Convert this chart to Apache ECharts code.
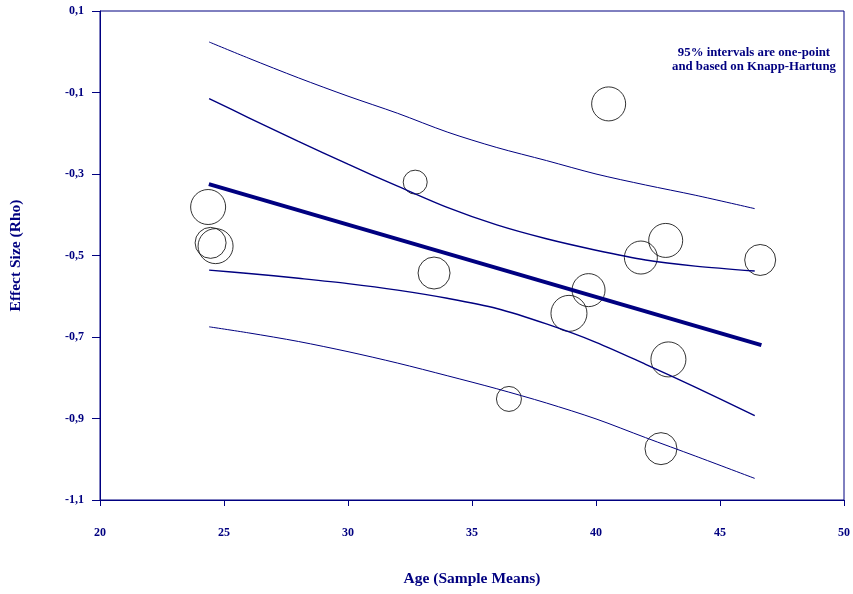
<!DOCTYPE html>
<html>
<head>
<meta charset="utf-8">
<script src="https://cdn.jsdelivr.net/npm/echarts@6/dist/echarts.min.js"></script>
<style>html,body{margin:0;padding:0;background:#fff}#c{width:853px;height:594px}</style>
</head>
<body>
<div id="c"></div>
<script>
// Study bubbles: age (sample mean), effect size (rho), weight (drawn diameter)
var studyAge = [24.36, 24.46, 24.66, 32.71, 33.47, 40.51, 41.81, 42.81, 46.62, 39.70, 38.91, 42.92, 36.49, 42.62];
var studyRho = [-0.381, -0.469, -0.477, -0.320, -0.543, -0.128, -0.505, -0.463, -0.511, -0.585, -0.642, -0.755, -0.852, -0.974];
var studyWeight = [35, 31, 35, 24, 32, 34, 33, 34, 31, 33, 36, 35, 25, 32];

// Meta-regression line
var regAge = [24.39, 46.67];
var regRho = [-0.325, -0.720];

// Interval curves, read at these ages
var bandAge = [24.4, 26, 28, 30, 32, 34, 36, 38, 40, 42, 44, 46.4];
// 95% CI (inner) upper and lower
var ciUpRho = [-0.115, -0.162, -0.220, -0.276, -0.330, -0.382, -0.425, -0.459, -0.487, -0.511, -0.526, -0.538];
var ciLoRho = [-0.536, -0.544, -0.556, -0.569, -0.585, -0.605, -0.630, -0.668, -0.713, -0.767, -0.823, -0.893];
// 95% prediction interval (outer) upper and lower
var piUpRho = [0.024, -0.016, -0.064, -0.109, -0.151, -0.197, -0.235, -0.267, -0.300, -0.327, -0.352, -0.385];
var piLoRho = [-0.675, -0.690, -0.711, -0.736, -0.764, -0.795, -0.827, -0.862, -0.901, -0.947, -0.992, -1.047];

var xTicks = [20, 25, 30, 35, 40, 45, 50];
var yTicks = [-1.1, -0.9, -0.7, -0.5, -0.3, -0.1, 0.1];

function zip(a, b, c) {
  return a.map(function (v, i) { return c ? [v, b[i], c[i]] : [v, b[i]]; });
}

var NAVY = '#000080';
var FONT = '"Liberation Serif", "Times New Roman", serif';

function curve(ay, w) {
  return {type: 'line', z: 3, data: zip(bandAge, ay), smooth: 0.3, showSymbol: false,
          lineStyle: {color: NAVY, width: w}};
}

var chart = echarts.init(document.getElementById('c'), null, {renderer: 'canvas'});
chart.setOption({
  animation: false,
  backgroundColor: '#ffffff',
  grid: {left: 100, right: 7, top: 11, bottom: 94, show: true, borderColor: NAVY, borderWidth: 1, backgroundColor: 'transparent'},
  xAxis: {
    type: 'value',
    min: xTicks[0], max: xTicks[xTicks.length - 1], interval: 5,
    name: 'Age (Sample Means)', nameLocation: 'middle', nameGap: 71,
    nameTextStyle: {color: NAVY, fontFamily: FONT, fontWeight: 'bold', fontSize: 15.5},
    axisLine: {show: true, onZero: false, lineStyle: {color: NAVY, width: 1}},
    axisTick: {show: true, inside: false, length: 6, lineStyle: {color: NAVY}},
    axisLabel: {color: NAVY, fontFamily: FONT, fontWeight: 'bold', fontSize: 12, margin: 27},
    splitLine: {show: false}
  },
  yAxis: {
    type: 'value',
    min: yTicks[0], max: yTicks[yTicks.length - 1], interval: 0.2,
    name: 'Effect Size (Rho)', nameLocation: 'middle', nameGap: 76, nameRotate: 90,
    nameTextStyle: {color: NAVY, fontFamily: FONT, fontWeight: 'bold', fontSize: 15.5},
    axisLine: {show: true, onZero: false, lineStyle: {color: NAVY, width: 1}},
    axisTick: {show: true, inside: false, length: 8, lineStyle: {color: NAVY}},
    axisLabel: {
      color: NAVY, fontFamily: FONT, fontWeight: 'bold', fontSize: 12, margin: 16,
      formatter: function (v) { return v.toFixed(1).replace('.', ','); }
    },
    splitLine: {show: false}
  },
  graphic: [{
    type: 'text', x: 754, y: 46,
    style: {
      text: '95% intervals are one-point\nand based on Knapp-Hartung',
      fill: NAVY, font: 'bold 12.8px ' + FONT, align: 'center', verticalAlign: 'top', lineHeight: 14
    }
  }],
  series: [
    {
      type: 'scatter', z: 2,
      data: zip(studyAge, studyRho, studyWeight),
      symbolSize: function (d) { return d[2]; },
      itemStyle: {color: 'rgba(0,0,0,0)', borderColor: '#000', borderWidth: 1}
    },
    curve(piUpRho, 1),
    curve(piLoRho, 1),
    curve(ciUpRho, 1.4),
    curve(ciLoRho, 1.4),
    {type: 'line', z: 4, data: zip(regAge, regRho), showSymbol: false, lineStyle: {color: NAVY, width: 4}}
  ]
});
</script>
</body>
</html>
